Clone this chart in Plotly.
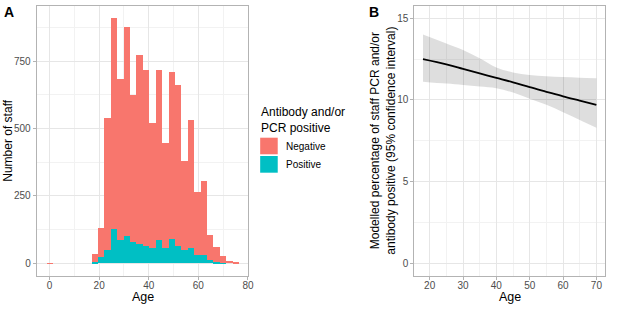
import plotly.graph_objects as go

# ---------------- Data ----------------
# Panel A: histogram of staff age (30 bins spanning ages 0-75, ggplot-style)
n_bins = 30
age_min, age_max = 0, 75
total_counts = [1, 0, 0, 0, 0, 0, 0, 34, 132, 541, 910, 684, 876, 626, 774,
                716, 522, 718, 447, 711, 663, 380, 533, 265, 306, 105, 62, 28, 8, 2]
positive_counts = [0, 0, 0, 0, 0, 0, 0, 6, 23, 49, 126, 87, 103, 78, 71,
                   65, 58, 87, 57, 90, 64, 49, 58, 31, 31, 12, 4, 2, 0, 0]
negative_counts = [t - p for t, p in zip(total_counts, positive_counts)]
bin_width = (age_max - age_min) / (n_bins - 1)
bin_centers = [age_min + k * bin_width for k in range(n_bins)]

# Panel B: modelled percentage positive with 95% CI
model_age = [18, 25, 30, 35, 40, 45, 50, 55, 60, 65, 70]
model_fit = [12.5, 12.18, 11.9, 11.62, 11.35, 11.08, 10.78, 10.5, 10.22, 9.96, 9.7]
model_upper = [14.0, 13.45, 13.05, 12.55, 11.98, 11.68, 11.53, 11.45, 11.4, 11.36, 11.33]
model_lower = [11.12, 11.0, 10.92, 10.82, 10.72, 10.45, 10.08, 9.7, 9.25, 8.78, 8.3]

col_neg = "#F8766D"
col_pos = "#00BFC4"

W, H = 617, 310
def px(x):
    return x / W
def py(y):
    return 1 - y / H

FONT = "Liberation Sans, Arial, Helvetica, sans-serif"
tick_col = "#4D4D4D"
grid_major = "#E6E6E6"
grid_minor = "#F2F2F2"
border = "#B3B3B3"

fig = go.Figure()

fig.add_trace(go.Bar(x=bin_centers, y=positive_counts, width=bin_width,
                     marker=dict(color=col_pos, line=dict(width=0)),
                     name="Positive", xaxis="x", yaxis="y", showlegend=False))
fig.add_trace(go.Bar(x=bin_centers, y=negative_counts, width=bin_width,
                     marker=dict(color=col_neg, line=dict(width=0)),
                     name="Negative", xaxis="x", yaxis="y", showlegend=False))

fig.add_trace(go.Scatter(x=model_age, y=model_upper, mode="lines",
                         line=dict(width=0, shape="spline"), xaxis="x2", yaxis="y2",
                         showlegend=False, hoverinfo="skip"))
fig.add_trace(go.Scatter(x=model_age, y=model_lower, mode="lines",
                         line=dict(width=0, shape="spline"), fill="tonexty",
                         fillcolor="rgba(0,0,0,0.13)", xaxis="x2", yaxis="y2",
                         showlegend=False, hoverinfo="skip"))
fig.add_trace(go.Scatter(x=model_age, y=model_fit, mode="lines",
                         line=dict(color="black", width=1.8, shape="spline"),
                         xaxis="x2", yaxis="y2", showlegend=False))

ax_common = dict(showline=True, mirror=True, linecolor=border, linewidth=1,
                 ticks="outside", ticklen=3, tickcolor=border,
                 tickfont=dict(family=FONT, size=10, color=tick_col),
                 showgrid=True, gridcolor=grid_major, gridwidth=1,
                 zeroline=False)

ydom = [py(275.6), py(6)]
fig.update_layout(
    width=W, height=H, margin=dict(l=0, r=0, t=0, b=0),
    paper_bgcolor="white", plot_bgcolor="white",
    barmode="stack", bargap=0, showlegend=False,
    font=dict(family=FONT, color="black"),
    xaxis=dict(domain=[px(37), px(250.5)], range=[-5.17, 80.2],
               tickvals=[0, 20, 40, 60, 80], ticklabelstandoff=-3,
               minor=dict(tickvals=[10, 30, 50, 70], showgrid=True,
                          gridcolor=grid_minor, ticks=""),
               anchor="y", **ax_common),
    yaxis=dict(domain=ydom, range=[-45.4, 955], tickvals=[0, 250, 500, 750],
               minor=dict(tickvals=[125, 375, 625, 875], showgrid=True,
                          gridcolor=grid_minor, ticks=""),
               anchor="x", **ax_common),
    xaxis2=dict(domain=[px(417.7), px(610)], range=[15.4, 72.6],
                tickvals=[20, 30, 40, 50, 60, 70], ticklabelstandoff=-3,
                minor=dict(tickvals=[25, 35, 45, 55, 65], showgrid=True,
                           gridcolor=grid_minor, ticks=""),
                anchor="y2", **ax_common),
    yaxis2=dict(domain=ydom, range=[-0.75, 15.75], tickvals=[0, 5, 10, 15],
                minor=dict(tickvals=[2.5, 7.5, 12.5], showgrid=True,
                           gridcolor=grid_minor, ticks=""),
                anchor="x2", **ax_common),
)

ann = []
def text(x, y, s, size, angle=0, bold=False, xanchor="center", yanchor="middle",
         color="black", align="center"):
    ann.append(dict(x=px(x), y=py(y), xref="paper", yref="paper", text=s,
                    showarrow=False, textangle=angle, xanchor=xanchor, yanchor=yanchor,
                    align=align,
                    font=dict(family=FONT, size=size, color=color,
                              weight="bold" if bold else "normal")))

text(2, 12, "A", 14, bold=True, xanchor="left")
text(370, 12, "B", 14, bold=True, xanchor="left")
text(143.7, 297, "Age", 12.5)
text(514, 297, "Age", 12.5)
text(8, 140.8, "Number of staff", 12, angle=-90)
text(386, 140.8, "Modelled percentage of staff PCR and/or<br>antibody positive (95% confidence interval)", 12, angle=-90)

# legend (manual)
text(261, 120, "Antibody and/or<br>PCR positive", 12, xanchor="left", align="left")
text(286, 146, "Negative", 10, xanchor="left")
text(286, 164.5, "Positive", 10, xanchor="left")
fig.update_layout(annotations=ann)

shapes = [
    dict(type="rect", xref="paper", yref="paper", x0=px(262.3), x1=px(280),
         y0=py(154.3), y1=py(137.7), fillcolor=col_neg, line=dict(width=0)),
    dict(type="rect", xref="paper", yref="paper", x0=px(262.3), x1=px(280),
         y0=py(172.7), y1=py(156), fillcolor=col_pos, line=dict(width=0)),
]
fig.update_layout(shapes=shapes)

fig.write_html("out.html", config={"displayModeBar": False},
               post_script="document.body.style.margin='0';")
